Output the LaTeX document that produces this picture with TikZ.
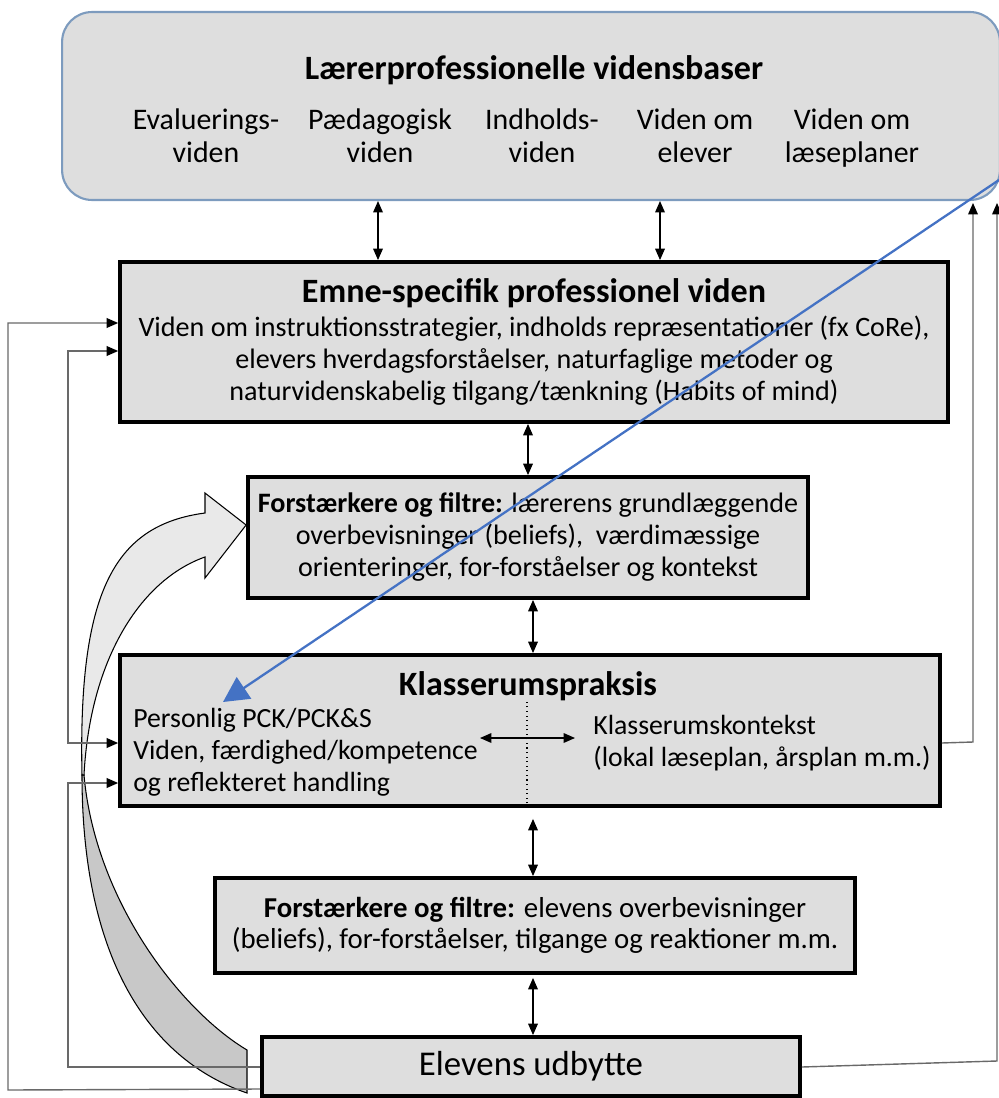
\documentclass[tikz,border=0pt]{standalone}
\usepackage{fontspec}
\setmainfont{Carlito}
\usetikzlibrary{arrows.meta}
\definecolor{boksgraa}{RGB}{222,222,222}
\definecolor{topramme}{RGB}{125,155,190}
\definecolor{pilblaa}{RGB}{68,114,196}
\definecolor{linjegraa}{RGB}{105,105,105}
\definecolor{baandmoerk}{RGB}{200,200,200}
\definecolor{baandlys}{RGB}{233,233,233}

\begin{document}
\begin{tikzpicture}[x=0.02cm,y=-0.02cm,
		boks/.style={draw,line width=2.2pt,fill=boksgraa,inner sep=0pt,align=center,font=\fontsize{16}{18.2}\selectfont},
		tekst/.style={inner sep=0pt,align=center,font=\fontsize{17}{18.8}\selectfont},
		overskrift/.style={font=\fontsize{19.4}{22}\selectfont\bfseries},
		dobbel/.style={{Triangle[length=6.5pt,width=5.5pt]}-{Triangle[length=6.5pt,width=5.5pt]},line width=0.7pt},
		link/.style={-{Triangle[length=6.5pt,width=5.5pt,color=black]},draw=linjegraa,line width=0.8pt},
		tilbage/.style={{Triangle[length=6.5pt,width=5.5pt,color=black]}-{Triangle[length=6.5pt,width=5.5pt,color=black]},draw=linjegraa,line width=0.8pt}]
			
				\useasboundingbox (0,0) rectangle (999,1098);
				\clip (0,0) rectangle (999,1098);
				
				\node[draw=topramme,line width=1.2pt,fill=boksgraa,rounded corners=0.6cm,minimum width=18.76cm,minimum height=3.76cm] (vidensbaser) at (531,106) {};
				\node[overskrift] (titel) at (534,70) {Lærerprofessionelle vidensbaser};
				\node[tekst] (evaluering) at (206,139) {\strut Evaluerings-\\viden\strut};
				\node[tekst] (paedagogisk) at (380,139) {\strut Pædagogisk\\viden\strut};
				\node[tekst] (indhold) at (542,139) {\strut Indholds-\\viden\strut};
				\node[tekst] (elever) at (695,139) {\strut Viden om\\elever\strut};
				\node[tekst] (laeseplan) at (852,139) {\strut Viden om\\læseplaner\strut};
				
				\node[boks,minimum width=16.56cm,minimum height=3.2cm] (emne) at (534,342) {{\fontsize{19.4}{22}\selectfont\bfseries Emne-specifik professionel viden}\\[1pt]
					Viden om instruktionsstrategier, indholds repræsentationer (fx CoRe),\\
					elevers hverdagsforståelser, naturfaglige metoder og\\
					naturvidenskabelig tilgang/tænkning (Habits of mind)};
				\node[boks,minimum width=11.2cm,minimum height=2.42cm] (filterL) at (528,537.5) {\textbf{Forstærkere og filtre:} lærerens grundlæggende\\
					overbevisninger (beliefs),\ \ værdimæssige\\
					orienteringer, for-forståelser og kontekst};
				\node[boks,minimum width=16.4cm,minimum height=3.02cm] (praksis) at (530,730.5) {};
				\node[overskrift] (praksistitel) at (528,686) {Klasserumspraksis};
				\node[tekst,align=left,anchor=west,font=\fontsize{15.8}{18.2}\selectfont] (pck) at (133,752) {Personlig PCK/PCK\&S\\Viden, færdighed/kompetence\\og reflekteret handling};
				\node[tekst,align=left,anchor=west,font=\fontsize{15.8}{18.2}\selectfont] (kontekst) at (593,743) {Klasserumskontekst\\(lokal læseplan, årsplan m.m.)};
				\node[boks,minimum width=12.8cm,minimum height=1.9cm,font=\fontsize{16.4}{18}\selectfont] (filterE) at (535,925.5) {\textbf{Forstærkere og filtre:} elevens overbevisninger\\
					(beliefs), for-forståelser, tilgange og reaktioner m.m.};
				\node[boks,minimum width=10.76cm,minimum height=1.18cm,font=\fontsize{19.8}{22}\selectfont] (udbytte) at (531,1066.5) {Elevens udbytte};
				
				\draw[line width=0.6pt,fill=baandmoerk] (247,1093) .. controls (150,1060) and (82,960) .. (82,775) -- (84,775) .. controls (95,900) and (180,1010) .. (247,1050) -- cycle;
				\draw[line width=0.6pt,fill=baandlys] (82,775) .. controls (78,590) and (115,525) .. (205,513) -- (205,493) -- (filterL.west |- 0,525) -- (205,578) -- (205,557) .. controls (140,580) and (90,660) .. (84,775) -- cycle;
				
				\draw[dobbel] (vidensbaser.south -| 378,0) -- (emne.north -| 378,0);
				\draw[dobbel] (vidensbaser.south -| 660,0) -- (emne.north -| 660,0);
				\draw[dobbel] (emne.south -| 528,0) -- (filterL.north -| 528,0);
				\draw[dobbel] (filterL.south -| 533,0) -- (praksis.north -| 533,0);
				\draw[dobbel,shorten <=0.22cm] (praksis.south -| 533,0) -- (filterE.north -| 533,0);
				\draw[dobbel,shorten <=0.06cm] (filterE.south -| 533,0) -- (udbytte.north -| 533,0);
				
				\coordinate (midt) at (527,700);
				\draw[dotted,line width=0.6pt] (praksis.south -| midt) -- (midt);
				\coordinate (kv) at (480,738);
				\coordinate (kh) at (575,738);
				\draw[dobbel] (kv) -- (kh);
				
				\draw[link] (udbytte.west |- 0,1089) -- (8,1090) |- (emne.west |- 0,323);
				\draw[link] (udbytte.west |- 0,1067) -| (68,783) -- (praksis.west |- 0,783);
				\draw[tilbage] (praksis.west |- 0,743) -| (68,351) -- (emne.west |- 0,351);
				\draw[link] (praksis.east |- 0,743) -- (973,742) -- (973,203);
				\draw[link] (udbytte.east |- 0,1067) -- (997,1061) -- (997,203);
				
				\coordinate (hjoerne) at (999,180);
				\coordinate (pckpil) at (223,702);
				\draw[pilblaa,line width=1.3pt,-{Triangle[length=14.4pt,width=14.6pt]}] (hjoerne) -- (pckpil);
			\end{tikzpicture}
\end{document}
